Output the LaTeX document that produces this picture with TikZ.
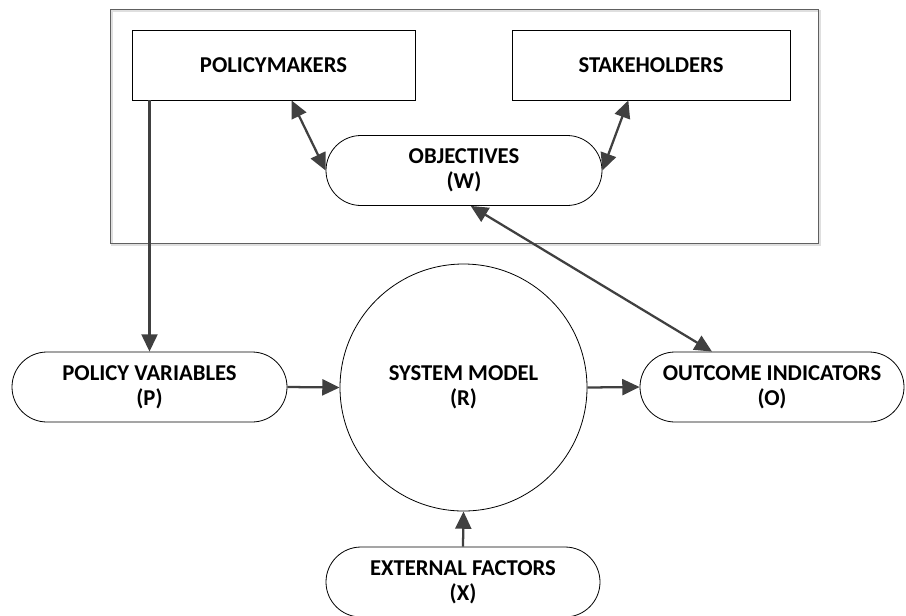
\documentclass[tikz,border=0pt]{standalone}
\usepackage{fontspec}
\setmainfont{Carlito}
\usetikzlibrary{arrows.meta,shapes.misc,calc}
\definecolor{arrowgray}{HTML}{404040}
\begin{document}
\begin{tikzpicture}[x=0.75pt,y=-0.75pt,
  every node/.style={font=\fontsize{17}{19}\selectfont\bfseries, align=center, inner sep=0pt},
  boxnode/.style={draw=black, line width=0.6pt, rectangle},
  pill/.style={draw=black, line width=0.6pt, rounded rectangle, minimum height=70*0.75pt},
  arr/.style={draw=arrowgray, line width=1.7pt, -{Triangle[length=13pt,width=12pt]}},
  darr/.style={draw=arrowgray, line width=1.7pt, {Triangle[length=13pt,width=12pt]}-{Triangle[length=13pt,width=12pt]}}
]
\useasboundingbox (0,0) rectangle (906,615);
% frame with shadow
\draw[gray!25, line width=1pt] (112,11) rectangle (820,245);
\node (frame) [draw=gray!75!black, line width=0.7pt, fill=none, minimum width=708*0.75pt, minimum height=234*0.75pt] at (464,126) {};
% nodes
\node (pm) [boxnode, minimum width=283*0.75pt, minimum height=70*0.75pt] at (273.5,65) {POLICYMAKERS};
\node (sh) [boxnode, minimum width=278*0.75pt, minimum height=70*0.75pt] at (651,65) {STAKEHOLDERS};
\node (obj) [pill, minimum width=276*0.75pt] at (464,170.5) {OBJECTIVES\\(W)};
\node (pv) [pill, minimum width=275*0.75pt] at (149.5,387) {POLICY VARIABLES\\(P)};
\node (sm) [draw=black, line width=0.6pt, circle, minimum size=247*0.75pt] at (463.5,387.5) {SYSTEM MODEL\\(R)};
\node (oi) [pill, minimum width=264*0.75pt] at (772,387) {OUTCOME INDICATORS\\(O)};
\node (ef) [pill, minimum width=274*0.75pt] at (463,582) {EXTERNAL FACTORS\\(X)};
% connectors
\draw[arr] (pm.south -| pv.north) -- (pv.north);
\draw[darr] ([xshift=13.5pt]pm.south) -- (obj.west);
\draw[darr] ([xshift=-17pt]sh.south) -- (obj.east);
\draw[darr] ([xshift=5pt]obj.south) -- ([xshift=-45pt]oi.north);
\draw[arr] (pv.east) -- (sm.west);
\draw[arr] (sm.east) -- (oi.west);
\draw[arr] (ef.north) -- (sm.south);
\end{tikzpicture}
\end{document}
